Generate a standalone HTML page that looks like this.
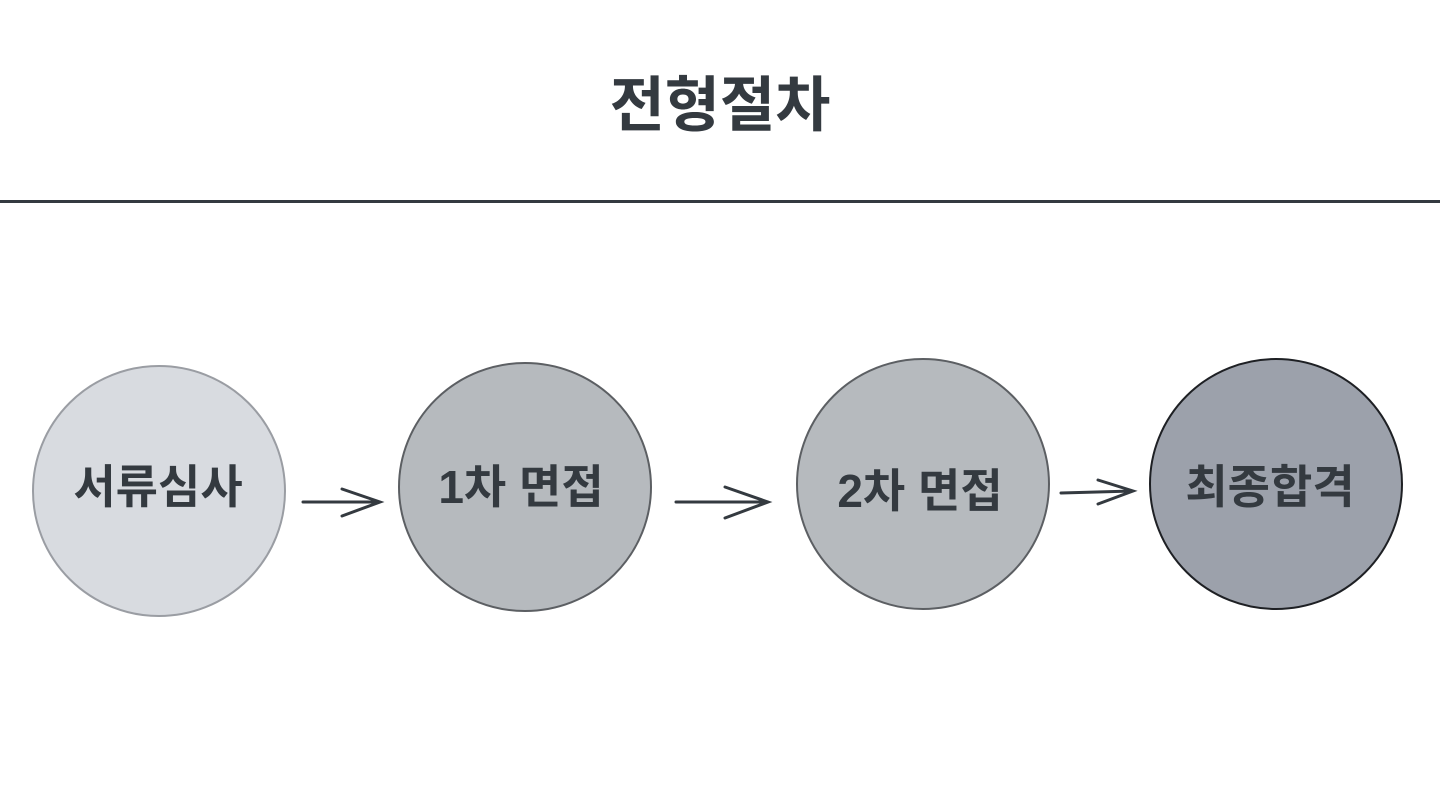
<!DOCTYPE html>
<html><head><meta charset="utf-8"><style>
body{margin:0;width:1440px;height:798px;background:#fff;overflow:hidden;font-family:"Liberation Sans","Noto Sans CJK KR",sans-serif;}
</style></head><body>
<svg width="1440" height="798" xmlns="http://www.w3.org/2000/svg" style="position:absolute;left:0;top:0">
<text x="720" y="126" text-anchor="middle" font-family="Liberation Sans, Noto Sans CJK KR, sans-serif" font-weight="bold" font-size="60" fill="#343a40">전형절차</text>
<line x1="0" y1="201.5" x2="1440" y2="201.5" stroke="#343a40" stroke-width="3"/>
<ellipse cx="159" cy="491" rx="126" ry="125" fill="#d8dbe0" stroke="#9a9da3" stroke-width="2"/>
<ellipse cx="525" cy="487" rx="126" ry="124" fill="#b6babe" stroke="#5c5f63" stroke-width="2"/>
<ellipse cx="923" cy="484" rx="126" ry="125" fill="#b6babe" stroke="#5c5f63" stroke-width="2"/>
<ellipse cx="1276" cy="484" rx="126" ry="125" fill="#9ca1ab" stroke="#1e2024" stroke-width="2"/>
<g font-family="Liberation Sans, Noto Sans CJK KR, sans-serif" font-weight="bold" font-size="46" fill="#343a40" text-anchor="middle">
<text x="158" y="503">서류심사</text>
<text x="521" y="503">1차 면접</text>
<text x="920" y="507">2차 면접</text>
<text x="1270" y="503">최종합격</text>
</g>
<g stroke="#343a40" stroke-width="3" fill="none" stroke-linecap="round">
<path d="M303 502 L380 502 M342 489 L380 502 L342 516"/>
<path d="M676 502 L768 502 M725 487 L768 502 L725 518"/>
<path d="M1061 493 L1133 491 M1098 480 L1133 491 L1098 504"/>
</g>
</svg>
</body></html>
